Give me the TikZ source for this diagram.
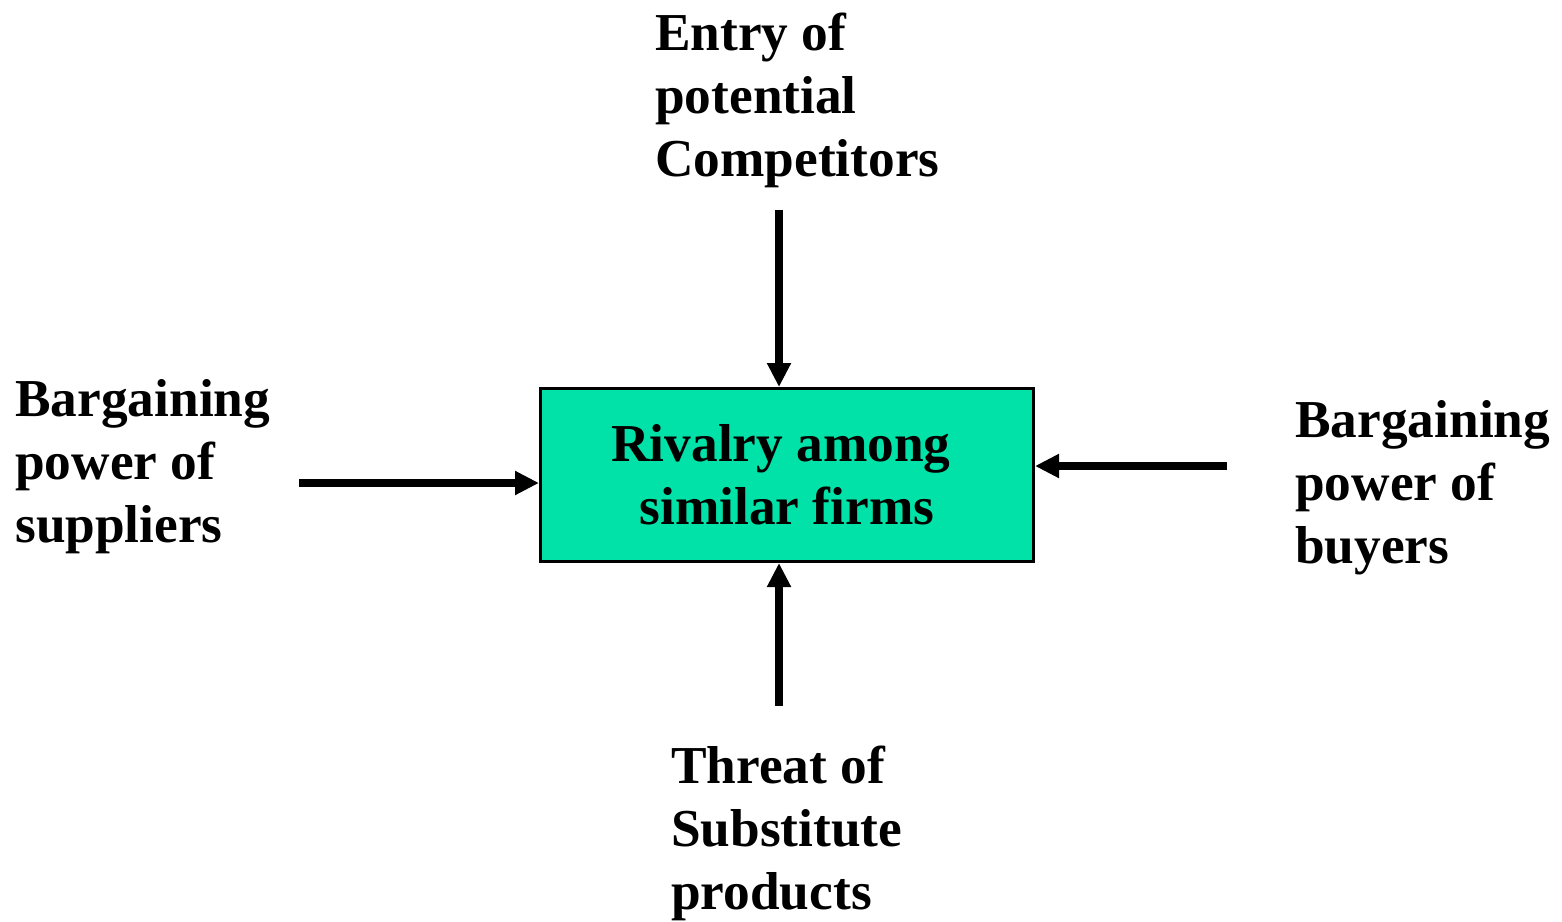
\documentclass[tikz,border=0pt]{standalone}
\usepackage{fontspec}
\setmainfont{Liberation Serif}
\usetikzlibrary{arrows.meta}
\definecolor{rivalgreen}{RGB}{0,226,168}
% stacked lines whose first baseline is the box baseline
\newcommand\stackleft[1]{\vtop{\halign{##\hfil\cr#1\crcr}}}
\newcommand\stackcentre[1]{\vtop{\halign{\hfil##\hfil\cr#1\crcr}}}
\begin{document}
\begin{tikzpicture}[x=0.75pt,y=-0.75pt,
  bigtext/.style={font=\fontsize{40}{47.6}\selectfont\bfseries},
  lbl/.style={bigtext, anchor=base west, inner sep=0pt},
  force/.style={line width=6pt, -{Triangle[length=18pt,width=17pt]}},
  firmbox/.style={bigtext, draw, line width=2.25pt, fill=rivalgreen,
    minimum width=369.75pt, minimum height=129.75pt, inner sep=0pt}]
\useasboundingbox (0,0) rectangle (1562,921);

% central box
\node[firmbox] (rival) at (787,475) {\stackcentre{Rivalry among\kern9pt\cr similar firms}};

% the four forces
\node[lbl] (entry) at (655,50) {\stackleft{Entry of\cr potential\cr Competitors}};
\node[lbl] (suppliers) at (15,416) {\stackleft{Bargaining\cr power of\cr suppliers}};
\node[lbl] (buyers) at (1295,437) {\stackleft{Bargaining\cr power of\cr buyers}};
\node[lbl] (substitutes) at (671,783) {\stackleft{Threat of\cr Substitute\cr products}};

% free ends of the arrows
\coordinate (entrystart) at (779,210);
\coordinate (supplierstart) at (299,483);
\coordinate (buyerstart) at (1227,466);
\coordinate (substitutestart) at (779,706);

\draw[force] (entrystart) -- (entrystart |- rival.north);
\draw[force] (supplierstart) -- (supplierstart -| rival.west);
\draw[force] (buyerstart) -- (buyerstart -| rival.east);
\draw[force] (substitutestart) -- (substitutestart |- rival.south);
\end{tikzpicture}
\end{document}
